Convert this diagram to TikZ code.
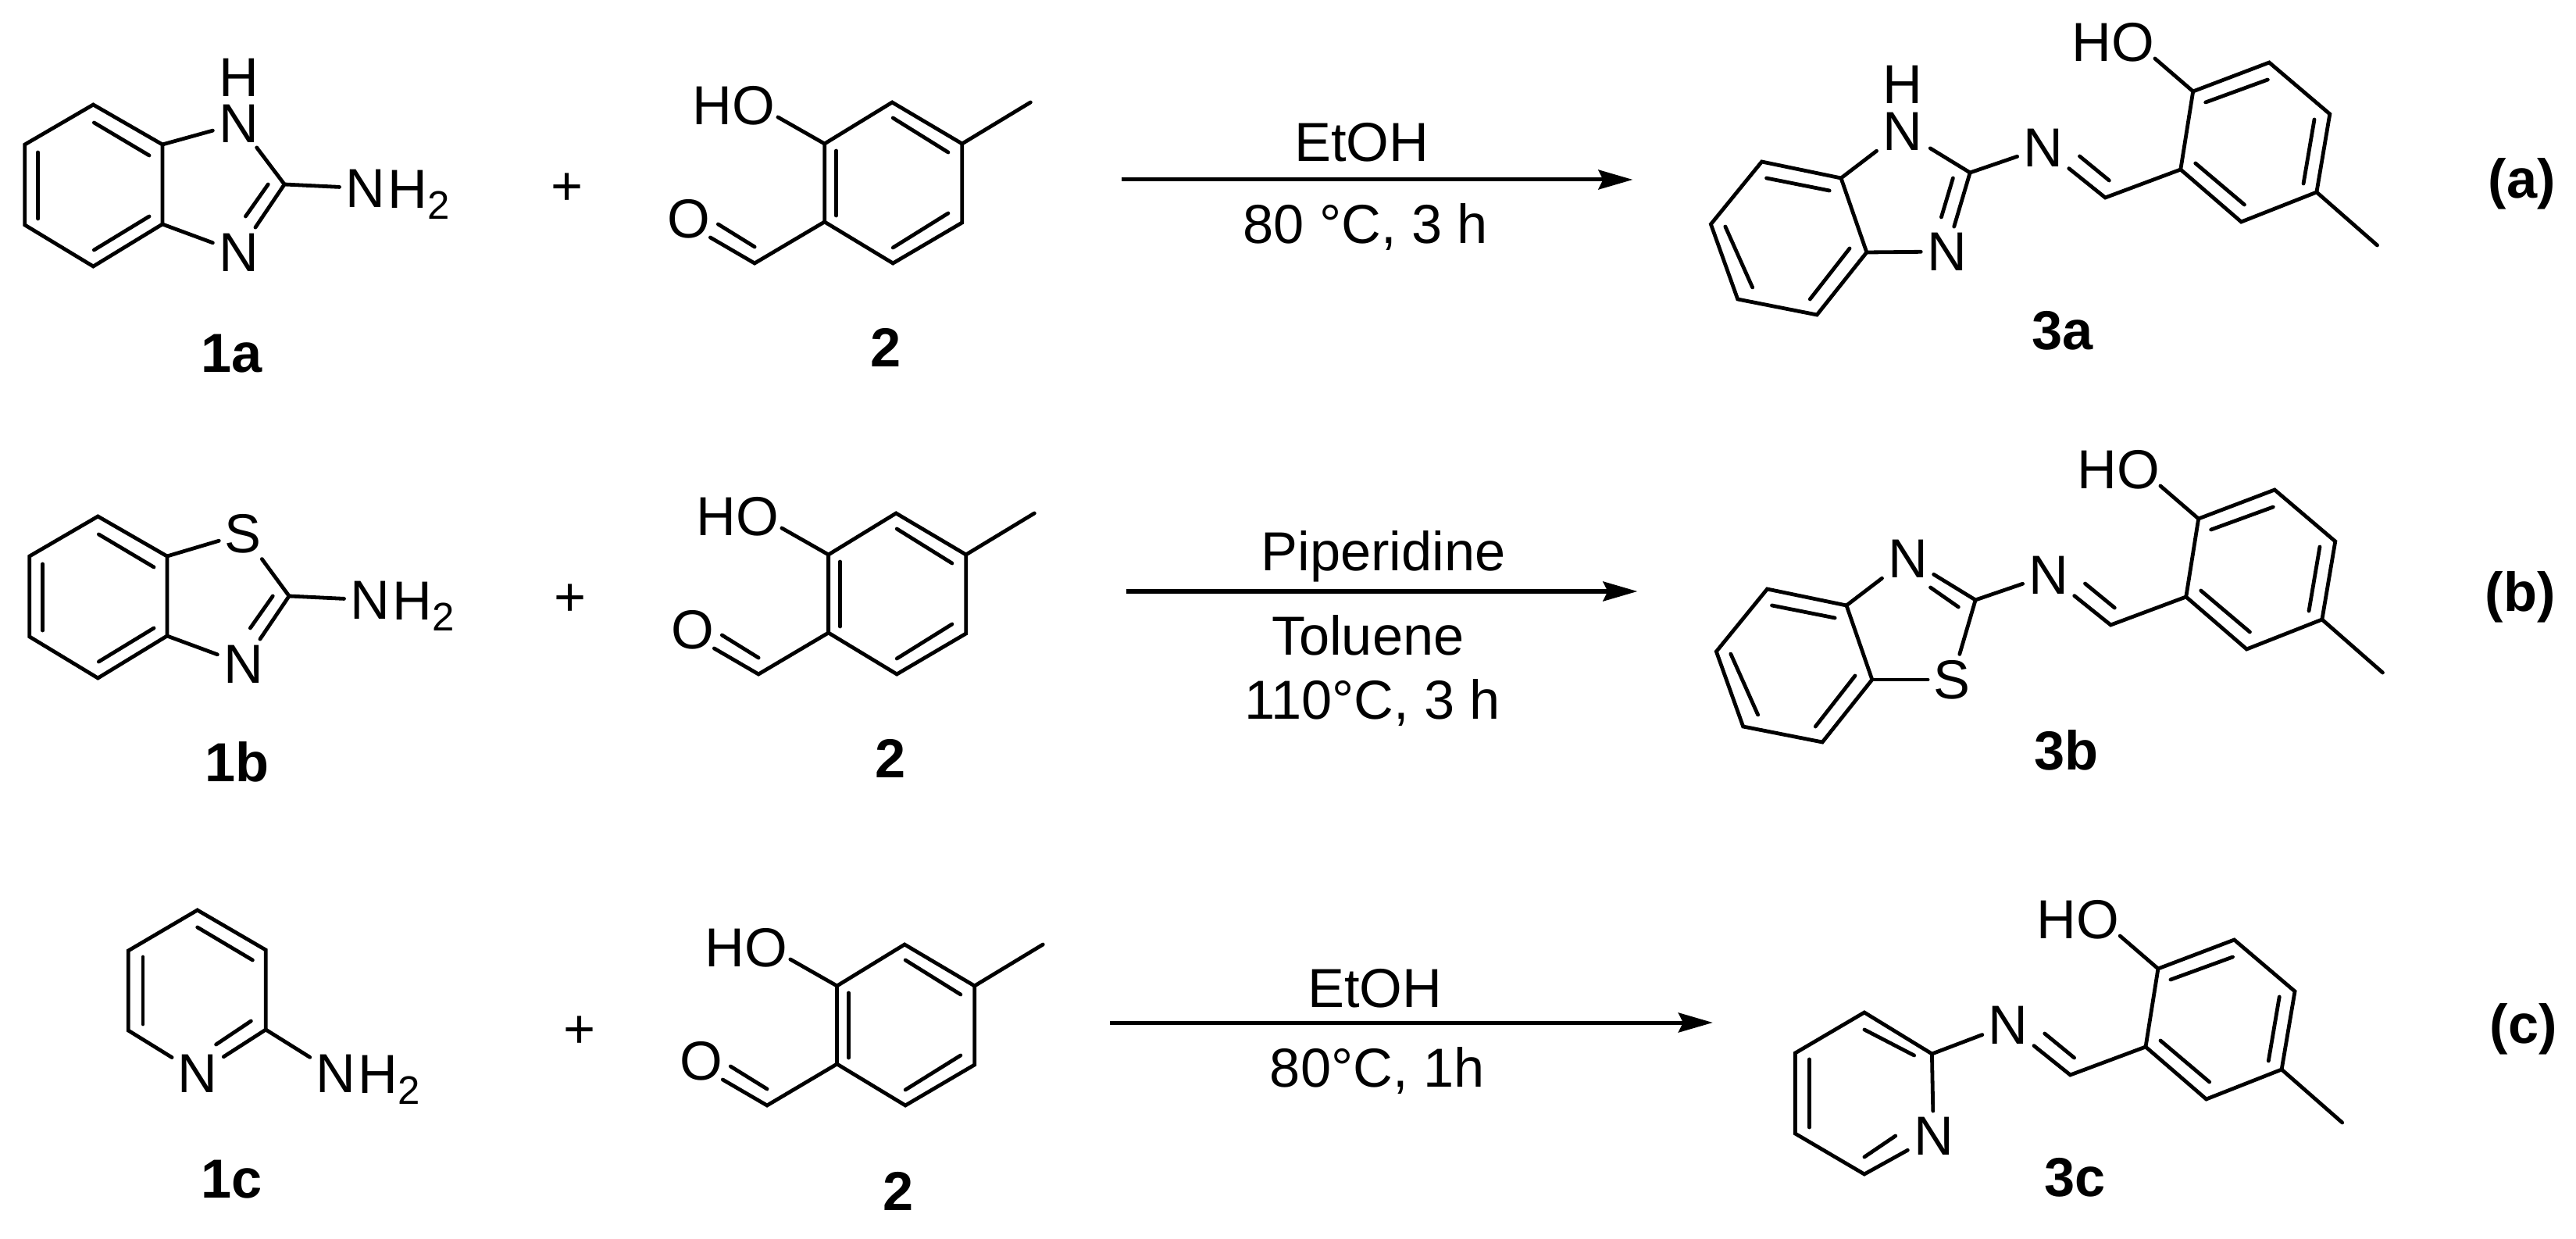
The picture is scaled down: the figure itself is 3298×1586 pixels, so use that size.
\documentclass[tikz,border=0pt]{standalone}
\usepackage{fontspec}
\setmainfont{Liberation Sans}
\usetikzlibrary{arrows.meta}
\tikzset{
  bond/.style={line width=0.048cm,line join=miter,line cap=round,black},
  atom/.style={font=\fontsize{20}{24}\selectfont,inner sep=0.07cm,text=black},
  atomh/.style={font=\fontsize{20}{24}\selectfont,inner sep=0pt,anchor=base west,text=black},
  cond/.style={font=\fontsize{20}{24}\selectfont,inner sep=0pt,anchor=base,text=black},
  cpd/.style={font=\bfseries\fontsize{20}{24}\selectfont,inner sep=0pt,anchor=base,text=black},
  rxn/.style={line width=0.05cm,black,-{Stealth[length=0.44cm,width=0.25cm,inset=0.06cm]}},
  leftpart/.style={xscale=0.995},
  rightpart/.style={xshift=0.071cm,xscale=0.9949},
  aldehyde/.pic={
    \begin{scope}[leftpart]
    \coordinate (-a) at (1148,131);
    \coordinate (-b) at (1238,184);
    \coordinate (-c) at (1238,285);
    \coordinate (-d) at (1149,337);
    \coordinate (-e) at (1061,284);
    \coordinate (-f) at (1061,184);
    \coordinate (-me) at (1326,131);
    \coordinate (-cho) at (971,337);
    \coordinate (-hoend) at (1001,150);
    \coordinate (-oend) at (914,304);
    \node[atom] (-ho) at (944,135) {HO};
    \node[atom] (-o) at (886,280) {O};
    \draw[bond] (-a)--(-b)--(-c)--(-d)--(-e)--(-f)--cycle;
    \draw[bond] (-b)--(-me);
    \draw[bond] (-f)--(-hoend);
    \draw[bond] (-e)--(-cho)--(-oend);
    \draw[bond] (924,287)--(971,316);
    \draw[bond] (1149,151)--(1220,195);
    \draw[bond] (1076,193)--(1076,276);
    \draw[bond] (1220,273)--(1149,317);
    \end{scope}
  },
  tail/.pic={
    \begin{scope}[xscale=0.9949]
    \coordinate (-ch) at (2702,253);
    \coordinate (-r1) at (2799,217);
    \coordinate (-r2) at (2815,117);
    \coordinate (-r3) at (2913,80);
    \coordinate (-r4) at (2991,146);
    \coordinate (-r5) at (2974,246);
    \coordinate (-r6) at (2877,284);
    \coordinate (-me) at (3052,314);
    \coordinate (-hoend) at (2766,75);
    \node[atom] (-n) at (2622,189) {N};
    \node[atom] (-ho) at (2712,54) {HO};
    \draw[bond] (-n)--(-ch)--(-r1);
    \draw[bond] (2669,200)--(2707,231);
    \draw[bond] (-r1)--(-r2)--(-r3)--(-r4)--(-r5)--(-r6)--cycle;
    \draw[bond] (-r5)--(-me);
    \draw[bond] (-r2)--(-hoend);
    \draw[bond] (2831,131)--(2911,102);
    \draw[bond] (2971,153)--(2957,235);
    \draw[bond] (2818,209)--(2881,262);
    \end{scope}
  },
  fused/.pic={
    \begin{scope}[leftpart]
    \coordinate (-a) at (120,134);
    \coordinate (-b) at (209,185);
    \coordinate (-c) at (209,287);
    \coordinate (-d) at (120,341);
    \coordinate (-e) at (32,288);
    \coordinate (-f) at (32,185);
    \coordinate (-g) at (366,236);
    \draw[bond] (-a)--(-b)--(-c)--(-d)--(-e)--(-f)--cycle;
    \draw[bond] (121,157)--(192,199);
    \draw[bond] (49,195)--(49,280);
    \draw[bond] (192,277)--(121,320);
    \draw[bond] (345,236)--(316,277);
    \end{scope}
  },
  prodfused/.pic={
    \begin{scope}[xscale=0.9949]
    \coordinate (-a) at (2260,207);
    \coordinate (-b) at (2362,228);
    \coordinate (-c) at (2395,323);
    \coordinate (-d) at (2331,403);
    \coordinate (-e) at (2229,383);
    \coordinate (-f) at (2194.5,287);
    \draw[bond] (-a)--(-b)--(-c)--(-d)--(-e)--(-f)--cycle;
    \draw[bond] (2266,228)--(2347,244);
    \draw[bond] (2213,290)--(2248,368);
    \draw[bond] (2373,318)--(2322,383);
    \end{scope}
  }
}
\newcommand{\NHtwo}[3]{%
  \node[atom] (#1) at (#2,#3) {N};
  \node[atomh,xshift=0.28cm,yshift=-0.25cm] (#1h) at (#1.center) {H\raisebox{-0.2em}{\fontsize{14.5}{16}\selectfont 2}};
}
\begin{document}
\begin{tikzpicture}[x=0.01cm,y=-0.01cm]
\useasboundingbox (0,0) rectangle (3298,1586);
\fill[white] (0,0) rectangle (3298,1586);

\begin{scope}[leftpart]
% ===== row a, reactants =====
\pic (fa) at (0,0) {fused};
\node[atom,inner ysep=0.02cm] (aN1) at (307,158) {N};
\node[atom,inner sep=0pt] (aH1) at (307,99) {H};
\node[atom] (aN3) at (307,323) {N};
\NHtwo{aNH}{470}{241}
\draw[bond] (fa-b)--(aN1);
\draw[bond,shorten <=0.05cm] (aN1)--(fa-g);
\draw[bond] (fa-g)--(aN3);
\draw[bond] (fa-c)--(aN3);
\draw[bond] (fa-g)--(aNH);
\pic (ala) at (0,0) {aldehyde};
\node[atom] (pa) at (730,242) {+};
\node[cpd] (l1a) at (298,477) {1a};
\node[cpd] (l2a) at (1140,470) {2};
% ===== row b, reactants =====
\pic (fb) at (6,527) {fused};
\node[atom] (bS) at (313,683) {S};
\node[atom] (bN) at (313,850) {N};
\NHtwo{bNH}{476}{768}
\draw[bond] (fb-b)--(bS);
\draw[bond] (bS)--(fb-g);
\draw[bond] (fb-g)--(bN);
\draw[bond] (fb-c)--(bN);
\draw[bond] (fb-g)--(bNH);
\pic (alb) at (5,526) {aldehyde};
\node[atom] (pb) at (734,768) {+};
\node[cpd] (l1b) at (305,1000) {1b};
\node[cpd] (l2b) at (1146,995) {2};
% ===== row c, reactants =====
\coordinate (pa1) at (254,1165);
\coordinate (pa2) at (342,1216);
\coordinate (pa3) at (342,1318);
\coordinate (pa5) at (165,1319);
\coordinate (pa6) at (165,1217);
\node[atom] (cN) at (254.5,1374) {N};
\NHtwo{cNH}{432}{1374}
\draw[bond] (cN)--(pa5)--(pa6)--(pa1)--(pa2)--(pa3)--(cN);
\draw[bond] (pa3)--(cNH);
\draw[bond] (254,1187)--(325,1229);
\draw[bond] (184,1225)--(184,1311);
\draw[bond] (323,1307)--(278,1337);
\pic (alc) at (16,1078) {aldehyde};
\node[atom] (pc) at (746,1321) {+};
\node[cpd] (l1c) at (298,1533) {1c};
\node[cpd] (l2c) at (1156,1549) {2};
\end{scope}

\begin{scope}[rightpart]
% ===== row a, arrow and product =====
\coordinate (xa0) at (1436,230);
\coordinate (xa1) at (2094,230);
\draw[rxn] (xa0)--(xa1);
\node[cond] (ca1) at (1745,207) {EtOH};
\node[cond] (ca2) at (1750,312) {80 °C, 3 h};
\pic (qa) at (0,0) {prodfused};
\coordinate (ca) at (2528,221);
\node[atom,inner ysep=0.02cm] (qaN1) at (2441,168) {N};
\node[atom,inner sep=0pt] (qaH) at (2441,108) {H};
\node[atom] (qaN3) at (2498,322) {N};
\pic (ta) at (0,0) {tail};
\draw[bond] (qa-b)--(qaN1);
\draw[bond,shorten <=0.03cm] (qaN1)--(ca);
\draw[bond] (ca)--(qaN3);
\draw[bond] (2506,228)--(2491,278);
\draw[bond] (qa-c)--(qaN3);
\draw[bond] (ca)--(ta-n);
\node[cpd] (l3a) at (2647,448) {3a};
\node[cpd] (ra) at (3238,254) {(a)};
% ===== row b, arrow and product =====
\coordinate (xb0) at (1442,757);
\coordinate (xb1) at (2100,757);
\draw[rxn] (xb0)--(xb1);
\node[cond] (cb1) at (1773,731) {Piperidine};
\node[cond] (cb2) at (1753,838) {Toluene};
\node[cond] (cb3) at (1759,920) {110°C, 3 h};
\pic (qb) at (7,547) {prodfused};
\coordinate (cb) at (2535,768);
\node[atom] (qbN) at (2448,715) {N};
\node[atom] (qbS) at (2505,870) {S};
\pic (tb) at (7,547) {tail};
\draw[bond] (qb-b)--(qbN);
\draw[bond] (qbN)--(cb);
\draw[bond] (2477,752)--(2513,777);
\draw[bond] (cb)--(qbS);
\draw[bond] (qb-c)--(qbS);
\draw[bond] (cb)--(tb-n);
\node[cpd] (l3b) at (2652,985) {3b};
\node[cpd] (rb) at (3236,782) {(b)};
% ===== row c, arrow and product =====
\coordinate (xc0) at (1421,1309);
\coordinate (xc1) at (2197,1309);
\draw[rxn] (xc0)--(xc1);
\node[cond] (cc1) at (1762,1289) {EtOH};
\node[cond] (cc2) at (1765,1391) {80°C, 1h};
\pic (tc) at (-45,1123) {tail};
\coordinate (qc1) at (2479,1349);
\coordinate (qc2) at (2392,1296);
\coordinate (qc3) at (2303,1348);
\coordinate (qc4) at (2303,1451);
\coordinate (qc5) at (2392,1503);
\node[atom] (qcN) at (2481,1454) {N};
\draw[bond] (qcN)--(qc1)--(qc2)--(qc3)--(qc4)--(qc5)--(qcN);
\draw[bond] (qc1)--(tc-n);
\draw[bond] (2392,1318)--(2456,1351);
\draw[bond] (2321,1356)--(2321,1443);
\draw[bond] (2392,1481)--(2432,1454);
\node[cpd] (l3c) at (2663,1531) {3c};
\node[cpd] (rc) at (3240,1335) {(c)};
\end{scope}
\end{tikzpicture}
\end{document}
